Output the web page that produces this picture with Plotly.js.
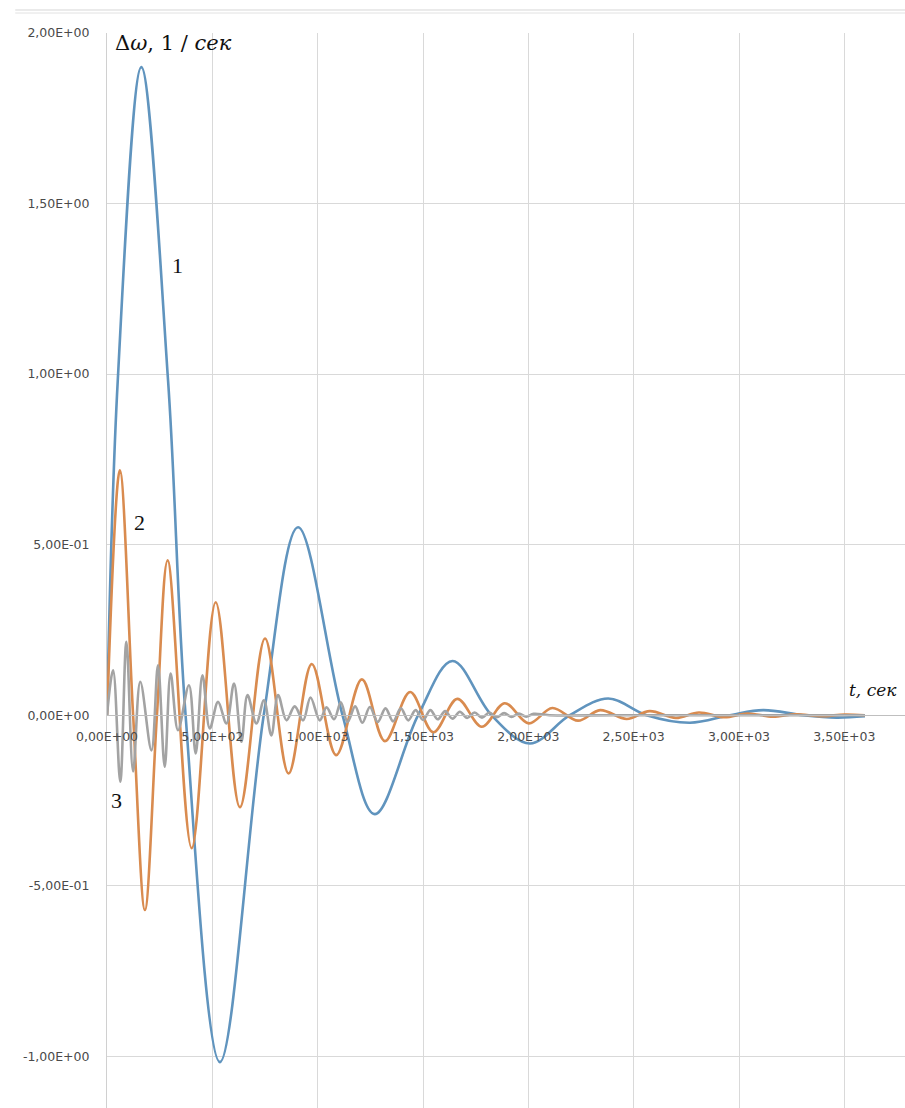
<!DOCTYPE html>
<html>
<head>
<meta charset="utf-8">
<script src="https://cdn.plot.ly/plotly-3.0.1.min.js"></script>
<style>
  html, body { margin: 0; padding: 0; background: #ffffff; }
  #chart { width: 905px; height: 1108px; }
</style>
</head>
<body>
<div id="chart"></div>
<script>
// ---- Data ----
// Curve 1 (blue)
var t1 = [0, 51, 163, 290, 373, 536, 744, 907, 1118, 1271, 1477, 1640, 1825, 2007, 2197, 2379, 2561, 2767, 2957, 3115, 3303, 3463, 3598];
var y1 = [0, 0.98, 1.90, 0.98, 0, -1.017, 0, 0.551, 0, -0.290, 0, 0.159, 0, -0.083, 0, 0.049, 0, -0.022, 0, 0.015, 0, -0.007, -0.003];

// Curve 2 (orange)
var t2 = [0, 61, 124, 180, 237, 288, 402, 516, 631, 750, 862, 972, 1088, 1210, 1319, 1439, 1549, 1663, 1779, 1888, 2002, 2114, 2236, 2341, 2467, 2576, 2700, 2810, 2930, 3040, 3160, 3270, 3390, 3500, 3598];
var y2 = [0, 0.718, 0, -0.571, 0, 0.454, -0.390, 0.331, -0.270, 0.225, -0.171, 0.150, -0.117, 0.105, -0.076, 0.068, -0.050, 0.048, -0.034, 0.035, -0.024, 0.021, -0.016, 0.015, -0.011, 0.012, -0.008, 0.008, -0.006, 0.005, -0.004, 0.003, -0.003, 0.002, 0];

// Curve 3 (gray)
var t3 = [0, 29, 63, 92, 124, 158, 211, 242, 274, 302, 337, 389, 421, 453, 488, 527, 567, 603, 638, 667, 709, 745, 780, 812, 852, 891, 931, 966, 1010, 1042, 1078, 1110, 1142, 1178, 1212, 1248, 1285, 1322, 1358, 1395, 1430, 1465, 1500, 1535, 1570, 1605, 1640, 1675, 1710, 1745, 1780, 1815, 1850, 1885, 1920, 1955, 1990, 2025, 2100, 2400, 2700, 3000, 3300, 3598];
var y3 = [0, 0.132, -0.195, 0.215, -0.165, 0.098, -0.103, 0.146, -0.151, 0.122, -0.044, 0.088, -0.112, 0.117, -0.039, 0.039, -0.024, 0.093, -0.078, 0.059, -0.024, 0.044, -0.059, 0.059, -0.015, 0.026, -0.015, 0.052, -0.015, 0.023, -0.012, 0.038, -0.020, 0.026, -0.022, 0.024, -0.020, 0.020, -0.018, 0.020, -0.015, 0.015, -0.014, 0.015, -0.012, 0.012, -0.010, 0.010, -0.008, 0.008, -0.007, 0.008, -0.006, 0.006, -0.005, 0.005, -0.004, 0.004, 0, 0, 0, 0, 0, 0];

// Tick labels
var xTickVals = [0, 500, 1000, 1500, 2000, 2500, 3000, 3500];
var xTickText = ['0,00E+00', '5,00E+02', '1,00E+03', '1,50E+03', '2,00E+03', '2,50E+03', '3,00E+03', '3,50E+03'];
var yTickVals = [-1, -0.5, 0, 0.5, 1, 1.5, 2];
var yTickText = ['-1,00E+00', '-5,00E-01', '0,00E+00', '5,00E-01', '1,00E+00', '1,50E+00', '2,00E+00'];

// ---- Chart ----
var xRange = [0, 3788];
var yRange = [-1.1515, 2.0];
var xAxisPos = (0 - yRange[0]) / (yRange[1] - yRange[0]);

var lineW = 2.6;
var traces = [
  { x: t1, y: y1, mode: 'lines', line: { color: '#6094be', width: lineW, shape: 'spline', smoothing: 1 }, name: '1' },
  { x: t2, y: y2, mode: 'lines', line: { color: '#d98b4f', width: lineW, shape: 'spline', smoothing: 1 }, name: '2' },
  { x: t3, y: y3, mode: 'lines', line: { color: '#a3a3a3', width: lineW, shape: 'spline', smoothing: 1 }, name: '3' }
];

var tickFont = { family: 'DejaVu Sans', size: 12.5, color: '#4a4a4a' };
var serif = 'Liberation Serif';

var layout = {
  width: 905,
  height: 1108,
  margin: { l: 107, r: 0, t: 33, b: 0, pad: 0 },
  paper_bgcolor: '#ffffff',
  plot_bgcolor: '#ffffff',
  showlegend: false,
  xaxis: {
    range: xRange,
    tickvals: xTickVals,
    ticktext: xTickText,
    tickfont: tickFont,
    ticks: '',
    ticklabelstandoff: 10,
    showgrid: true,
    gridcolor: '#d9d9d9',
    gridwidth: 1,
    zeroline: false,
    showline: true,
    linecolor: '#bfbfbf',
    linewidth: 1,
    anchor: 'free',
    position: xAxisPos,
    fixedrange: true
  },
  yaxis: {
    range: yRange,
    tickvals: yTickVals,
    ticktext: yTickText,
    tickfont: tickFont,
    ticks: '',
    ticklabelstandoff: 14,
    showgrid: true,
    gridcolor: '#d9d9d9',
    gridwidth: 1,
    zeroline: true,
    zerolinecolor: '#bfbfbf',
    zerolinewidth: 1,
    showline: true,
    linecolor: '#d0d0d0',
    linewidth: 1,
    fixedrange: true
  },
  shapes: [
    { type: 'line', xref: 'paper', yref: 'paper', x0: -0.115, x1: 1, y0: 1.0214, y1: 1.0214, line: { color: '#d6d6d6', width: 1 } },
    { type: 'line', xref: 'paper', yref: 'paper', x0: -0.115, x1: 1, y0: 1.0186, y1: 1.0186, line: { color: '#e2e2e2', width: 1 } }
  ],
  annotations: [
    { x: 30, y: 1.972, xref: 'x', yref: 'y', xanchor: 'left', yanchor: 'middle', showarrow: false,
      text: 'Δ<i>ω</i>, 1 / <i>сек</i>', font: { family: 'DejaVu Serif', size: 21, color: '#111111' } },
    { x: 3515, y: 0.073, xref: 'x', yref: 'y', xanchor: 'left', yanchor: 'middle', showarrow: false,
      text: '<i>t, сек</i>', font: { family: 'DejaVu Serif', size: 17, color: '#111111' } },
    { x: 336, y: 1.318, xref: 'x', yref: 'y', xanchor: 'center', yanchor: 'middle', showarrow: false,
      text: '1', font: { family: serif, size: 22, color: '#111111' } },
    { x: 155, y: 0.565, xref: 'x', yref: 'y', xanchor: 'center', yanchor: 'middle', showarrow: false,
      text: '2', font: { family: serif, size: 22, color: '#111111' } },
    { x: 45, y: -0.249, xref: 'x', yref: 'y', xanchor: 'center', yanchor: 'middle', showarrow: false,
      text: '3', font: { family: serif, size: 22, color: '#111111' } }
  ]
};

Plotly.newPlot('chart', traces, layout, { displayModeBar: false, staticPlot: true });
</script>
</body>
</html>
